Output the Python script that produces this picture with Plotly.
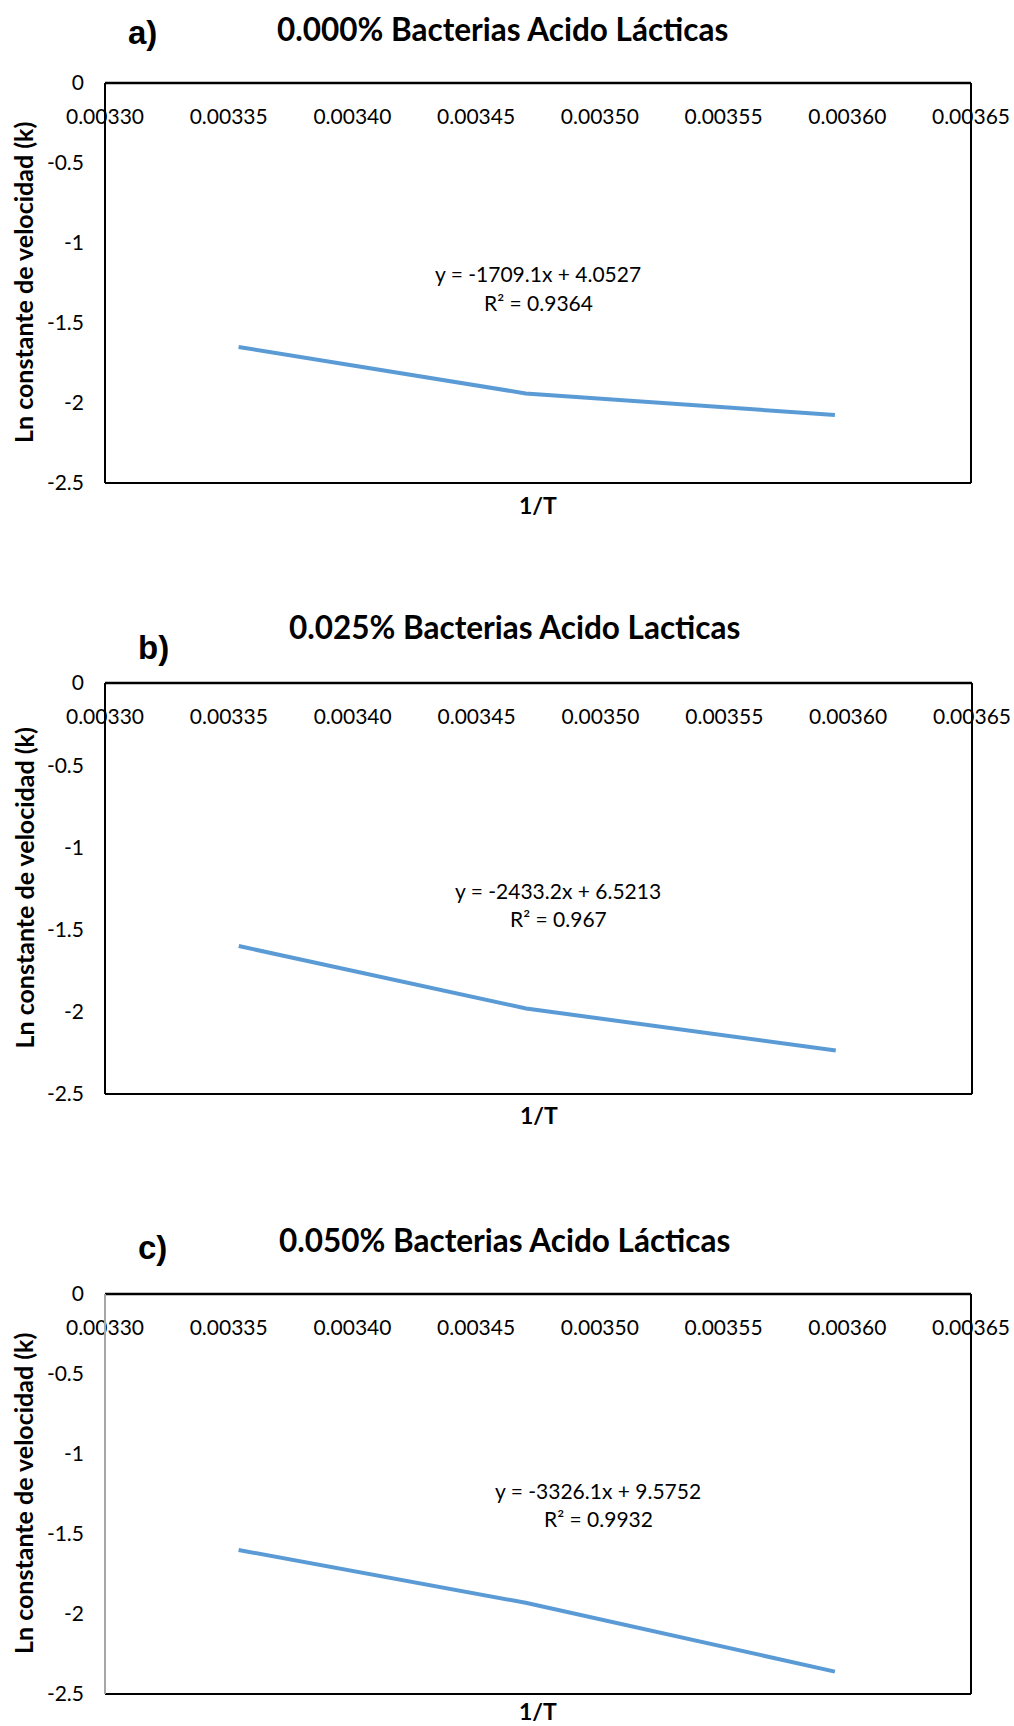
import plotly.graph_objects as go

# Arrhenius plots: ln k versus 1/T for three lactic-acid-bacteria levels
inv_temp = [0.003354, 0.003470, 0.003595]          # 1/T for 25, 15 and 5 °C
ln_k_000 = [-1.65, -1.94, -2.075]
ln_k_025 = [-1.60, -1.98, -2.235]
ln_k_050 = [-1.60, -1.93, -2.36]

panel_letters = ["a)", "b)", "c)"]
panel_titles = [
    "0.000% Bacterias Acido Lácticas",
    "0.025% Bacterias Acido Lacticas",
    "0.050% Bacterias Acido Lácticas",
]
fit_equations = ["y = -1709.1x + 4.0527", "y = -2433.2x + 6.5213", "y = -3326.1x + 9.5752"]
fit_r2 = ["R² = 0.9364", "R² = 0.967", "R² = 0.9932"]

x_tick_vals = [0.00330, 0.00335, 0.00340, 0.00345, 0.00350, 0.00355, 0.00360, 0.00365]
x_tick_text = ["0.00330", "0.00335", "0.00340", "0.00345", "0.00350", "0.00355", "0.00360", "0.00365"]
y_tick_vals = [0, -0.5, -1, -1.5, -2, -2.5]
y_tick_text = ["0", "-0.5", "-1", "-1.5", "-2", "-2.5"]

x_label = "1/T"
y_label = "Ln constante de velocidad (k)"

series = [ln_k_000, ln_k_025, ln_k_050]

# ---- layout geometry (pixels) ----
W, H = 1014, 1726
boxes = [(105, 971, 83, 483), (105, 972, 683, 1094), (105, 971, 1294, 1694)]
title_pos = [(502, 29), (514, 627), (504, 1240)]
letter_pos = [(142, 33), (153, 647), (152, 1247)]
eq_pos = [(538, 273, 302), (558, 890, 919), (598, 1490, 1518)]
xlabel_gap = [22, 21, 17]
left_edge_color = ["black", "black", "#a6a6a6"]

LINE_BLUE = "#5B9BD5"
FONT = "Lato"


def fx(px):
    return px / W


def fy(py):
    return 1 - py / H


fig = go.Figure()
annotations = []
shapes = []
layout_axes = {}

for i, (yvals, (x0, x1, y0, y1)) in enumerate(zip(series, boxes)):
    n = "" if i == 0 else str(i + 1)
    xa, ya = "x" + n, "y" + n

    fig.add_trace(go.Scatter(
        x=inv_temp, y=yvals, mode="lines",
        line=dict(color=LINE_BLUE, width=4),
        xaxis=xa, yaxis=ya, showlegend=False, hoverinfo="skip",
    ))

    layout_axes["xaxis" + n] = dict(
        domain=[fx(x0), fx(x1)], range=[0.00330, 0.00365],
        anchor="free", position=fy(y0), side="bottom", automargin=False,
        tickvals=x_tick_vals, ticktext=x_tick_text, ticks="",
        showgrid=False, zeroline=False, showline=False,
        tickfont=dict(family=FONT, size=21, color="black"),
        ticklabelstandoff=19,
    )
    layout_axes["yaxis" + n] = dict(
        domain=[fy(y1), fy(y0)], range=[-2.5, 0], anchor=xa, automargin=False,
        tickvals=y_tick_vals, ticktext=y_tick_text, ticks="",
        showgrid=False, zeroline=False, showline=False,
        tickfont=dict(family=FONT, size=21, color="black"),
        ticklabelstandoff=20,
    )

    # plot frame
    xd, yd = xa + " domain", ya + " domain"
    frame = [
        (0, 1, 1, 1, "black", 2.5),              # top (y = 0 axis)
        (0, 1, 0, 0, "black", 2),                # bottom
        (1, 1, 0, 1, "black", 2),                # right
        (0, 0, 0, 1, left_edge_color[i], 2),     # left
    ]
    for ax0, ax1, ay0, ay1, col, wd in frame:
        shapes.append(dict(type="line", xref=xd, yref=yd, x0=ax0, x1=ax1, y0=ay0, y1=ay1,
                           line=dict(color=col, width=wd), layer="above"))

    # panel title and letter
    tx, ty = title_pos[i]
    annotations.append(dict(text=panel_titles[i], x=fx(tx), y=fy(ty), xref="paper", yref="paper",
                            showarrow=False, xanchor="center", yanchor="middle",
                            font=dict(family=FONT, size=31.5, color="black", weight="bold")))
    lx, ly = letter_pos[i]
    annotations.append(dict(text=panel_letters[i], x=fx(lx), y=fy(ly), xref="paper", yref="paper",
                            showarrow=False, xanchor="center", yanchor="middle",
                            font=dict(family="Liberation Sans", size=33, color="black", weight="bold")))

    # trendline equation
    ex, e1, e2 = eq_pos[i]
    annotations.append(dict(text=fit_equations[i], x=fx(ex), y=fy(e1), xref="paper", yref="paper",
                            showarrow=False, xanchor="center", yanchor="middle",
                            font=dict(family=FONT, size=21, color="black")))
    annotations.append(dict(text=fit_r2[i], x=fx(ex), y=fy(e2), xref="paper", yref="paper",
                            showarrow=False, xanchor="center", yanchor="middle",
                            font=dict(family=FONT, size=21, color="black")))

    # axis titles
    annotations.append(dict(text=x_label, x=fx((x0 + x1) / 2), y=fy(y1 + xlabel_gap[i]),
                            xref="paper", yref="paper", borderpad=0,
                            showarrow=False, xanchor="center", yanchor="middle",
                            font=dict(family=FONT, size=23, color="black", weight="bold")))
    annotations.append(dict(text=y_label, x=fx(23), y=fy((y0 + y1) / 2), xref="paper", yref="paper",
                            showarrow=False, xanchor="center", yanchor="middle", textangle=-90,
                            font=dict(family=FONT, size=25, color="black", weight="bold")))

fig.update_layout(
    width=W, height=H,
    margin=dict(l=0, r=0, t=0, b=0, pad=0, autoexpand=False),
    paper_bgcolor="white", plot_bgcolor="white",
    annotations=annotations, shapes=shapes,
    **layout_axes,
)

fig.write_html("out.html", config={"displayModeBar": False})
